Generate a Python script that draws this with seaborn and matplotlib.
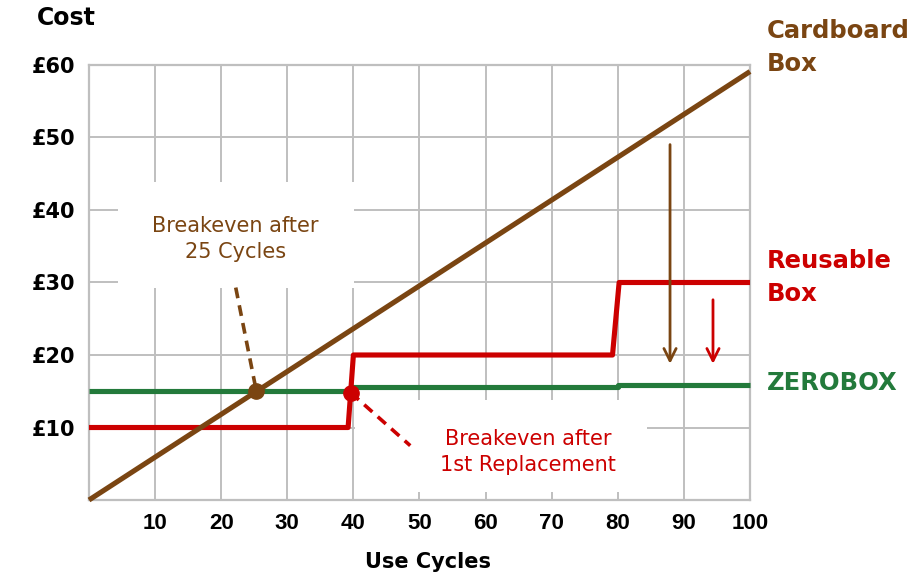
import matplotlib
matplotlib.use("Agg")
import matplotlib.pyplot as plt
from matplotlib.patches import Rectangle
import seaborn as sns

# --- data ---
cardboard_cycles = [0, 100]
cardboard_cost = [0, 59.1]

reusable_cycles = [0, 39.2, 40, 79.2, 80.2, 100]
reusable_cost = [10, 10, 20, 20, 30, 30]

zerobox_cycles = [0, 40, 40, 80, 80, 100]
zerobox_cost = [15.1, 15.1, 15.65, 15.65, 15.9, 15.9]

x_ticks = [10, 20, 30, 40, 50, 60, 70, 80, 90, 100]
y_ticks = [10, 20, 30, 40, 50, 60]
y_tick_labels = ["£10", "£20", "£30", "£40", "£50", "£60"]

breakeven_cardboard = (25.3, 15.1)
breakeven_reusable = (39.6, 14.8)

BROWN = "#7a4512"
RED = "#cc0000"
GREEN = "#237a3b"
GRID = "#bfbfbf"

sns.set_style("white")
plt.rcParams["font.family"] = ["DejaVu Sans"]
plt.rcParams["text.color"] = "black"

fig = plt.figure(figsize=(9.24, 5.74), dpi=100)
ax = fig.add_axes([0.0963, 0.1289, 0.7154, 0.7579])

ax.set_xlim(0, 100)
ax.set_ylim(0, 60)
ax.set_xticks(x_ticks)
ax.set_yticks(y_ticks)
ax.set_yticklabels(y_tick_labels)
ax.grid(True, color=GRID, lw=1.4)
ax.set_axisbelow(True)
for sp in ax.spines.values():
    sp.set_color(GRID)
    sp.set_linewidth(1.6)
ax.tick_params(axis="x", length=0, pad=9, labelsize=16, labelcolor="black")
ax.tick_params(axis="y", length=0, pad=10, labelsize=15, labelcolor="black")
for lab in ax.get_xticklabels():
    lab.set_fontfamily("Liberation Sans")
    lab.set_fontweight("bold")
for lab in ax.get_yticklabels():
    lab.set_fontweight("bold")

# white boxes behind the annotation texts (hide the grid there)
ax.add_patch(Rectangle((4.4, 29.3), 35.7, 14.5, facecolor="white",
                       edgecolor="none", zorder=1))
ax.add_patch(Rectangle((40.3, 1.1), 44.1, 12.7, facecolor="white",
                       edgecolor="none", zorder=1))

# series
sns.lineplot(x=zerobox_cycles, y=zerobox_cost, color=GREEN, lw=3.7,
             estimator=None, sort=False, ax=ax, zorder=3)
sns.lineplot(x=reusable_cycles, y=reusable_cost, color=RED, lw=3.7,
             estimator=None, sort=False, ax=ax, zorder=4)
sns.lineplot(x=cardboard_cycles, y=cardboard_cost, color=BROWN, lw=3.7,
             estimator=None, sort=False, ax=ax, zorder=5)
for ln in ax.lines:
    ln.set_clip_on(False)
    ln.set_solid_capstyle("butt")

# breakeven callouts
ax.plot([22.2, breakeven_cardboard[0]], [29.3, breakeven_cardboard[1]],
        color=BROWN, lw=2.6, ls=(0, (3, 2)), zorder=6)
ax.plot([breakeven_reusable[0], 48.6], [breakeven_reusable[1], 7.5],
        color=RED, lw=2.6, ls=(0, (3, 2)), zorder=6)
ax.plot(*breakeven_cardboard, "o", color=BROWN, ms=11, zorder=7)
ax.plot(*breakeven_reusable, "o", color=RED, ms=11, zorder=7)

ax.text(22.2, 36.0, "Breakeven after\n25 Cycles", color=BROWN, fontsize=15,
        ha="center", va="center", linespacing=1.35, zorder=8)
ax.text(66.4, 6.6, "Breakeven after\n1st Replacement", color=RED, fontsize=15,
        ha="center", va="center", linespacing=1.35, zorder=8)

# savings arrows
ax.annotate("", xy=(87.9, 18.4), xytext=(87.9, 49.4),
            arrowprops=dict(arrowstyle="->", color=BROWN, lw=2.0,
                            mutation_scale=22), zorder=6)
ax.annotate("", xy=(94.4, 18.4), xytext=(94.4, 28.0),
            arrowprops=dict(arrowstyle="->", color=RED, lw=2.0,
                            mutation_scale=22), zorder=6)

# series labels at right
ax.text(102.6, 62.4, "Cardboard\nBox", color=BROWN, fontsize=17.5,
        fontweight="bold", ha="left", va="center", linespacing=1.45,
        clip_on=False)
ax.text(102.6, 30.7, "Reusable\nBox", color=RED, fontsize=17.5,
        fontweight="bold", ha="left", va="center", linespacing=1.45,
        clip_on=False)
ax.text(102.6, 16.2, "ZEROBOX", color=GREEN, fontsize=17.5,
        fontweight="bold", ha="left", va="center", clip_on=False)

# axis titles
ax.set_xlabel("Use Cycles", fontsize=15, fontweight="bold", color="black")
ax.xaxis.set_label_coords(0.513, -0.12)
fig.text(0.040, 0.99, "Cost", fontsize=17, fontweight="bold",
         color="black", ha="left", va="top")

fig.savefig("out.png", dpi=100)
